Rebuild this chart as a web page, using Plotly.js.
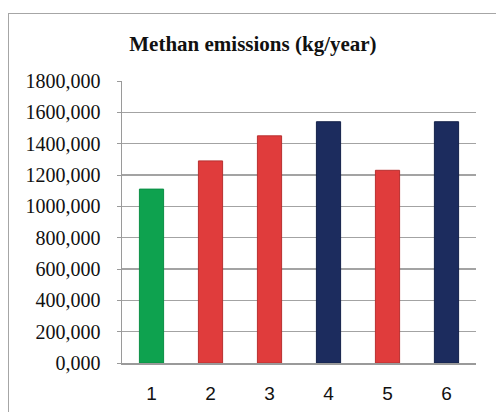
<!DOCTYPE html>
<html>
<head>
<meta charset="utf-8">
<script src="https://cdn.plot.ly/plotly-3.0.1.min.js"></script>
<style>
html,body{margin:0;padding:0;background:#fff;}
#wrap{position:relative;width:496px;height:412px;}
#frame{position:absolute;left:8px;top:13px;right:0;bottom:0;border-left:1px solid #a6a6a6;border-top:1px solid #a6a6a6;pointer-events:none;}
#chart{position:absolute;left:0;top:0;width:496px;height:412px;}
</style>
</head>
<body>
<div id="wrap">
<div id="chart"></div>
<div id="frame"></div>
</div>
<script>
var categories = ["1", "2", "3", "4", "5", "6"];
var emissions = [1110, 1290, 1450, 1540, 1230, 1540];
var barColors = ["#0ea24f", "#e03c3c", "#e03c3c", "#1c2c5e", "#e03c3c", "#1c2c5e"];
var edgeColors = ["#0b8f45", "#b83030", "#b83030", "#14224a", "#b83030", "#14224a"];
var yTicks = [0, 200, 400, 600, 800, 1000, 1200, 1400, 1600, 1800];

var trace = {
  type: "bar",
  x: categories,
  y: emissions,
  width: 0.41,
  marker: {color: barColors, line: {color: edgeColors, width: 1}},
  hoverinfo: "x+y"
};

var layout = {
  width: 496,
  height: 412,
  margin: {l: 122, r: 20, t: 81, b: 49},
  paper_bgcolor: "#ffffff",
  plot_bgcolor: "#ffffff",
  separators: ", ",
  showlegend: false,
  title: {
    text: "<b>Methan emissions (kg/year)</b>",
    font: {family: "Liberation Serif, Times New Roman, serif", size: 21, color: "#111111"},
    x: 0.51, xanchor: "center", xref: "container",
    y: 0.893, yanchor: "middle", yref: "container"
  },
  xaxis: {
    type: "category",
    showgrid: false,
    showline: true,
    linecolor: "#9a9a9a",
    linewidth: 1.5,
    ticks: "",
    ticklabelstandoff: 13,
    tickfont: {family: "Liberation Sans, Arial, sans-serif", size: 19, color: "#111111"},
    fixedrange: true
  },
  yaxis: {
    range: [0, 1800],
    tickvals: yTicks,
    tickformat: ".3f",
    showgrid: true,
    gridcolor: "#a3a3a3",
    gridwidth: 1.5,
    showline: true,
    linecolor: "#9a9a9a",
    linewidth: 1.5,
    ticks: "outside",
    ticklen: 4,
    tickcolor: "#9a9a9a",
    ticklabelstandoff: 12,
    zeroline: false,
    tickfont: {family: "Liberation Serif, Times New Roman, serif", size: 20, color: "#111111"},
    fixedrange: true
  }
};

Plotly.newPlot("chart", [trace], layout, {displayModeBar: false, staticPlot: true});
</script>
</body>
</html>
